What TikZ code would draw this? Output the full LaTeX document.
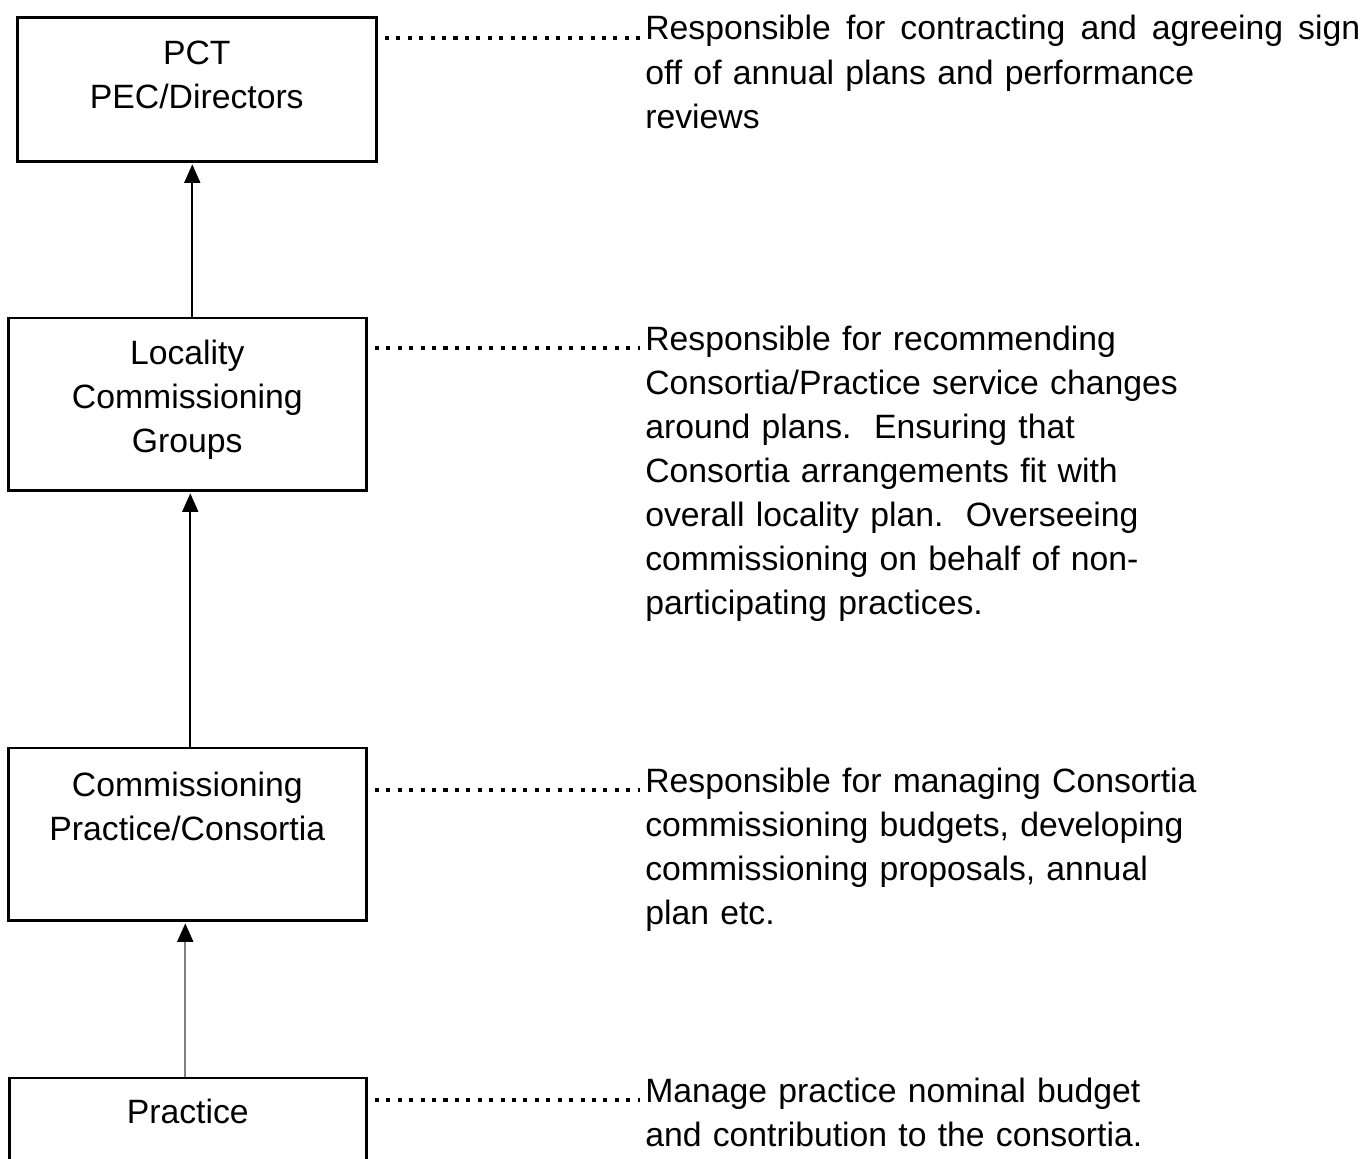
\documentclass[tikz,border=0pt]{standalone}
\usepackage{fontspec}
\setmainfont{Liberation Sans}
\usepackage{tikz}
\usetikzlibrary{arrows.meta}
\tikzstyle{unit}=[rectangle,draw,line width=1.5pt,inner sep=0pt,align=center,anchor=north west]
\tikzstyle{note}=[inner sep=0pt,text width=12cm,align=left,anchor=base west]
\tikzstyle{leader}=[line width=2.3pt,dash pattern=on 2.3pt off 4.2pt,dash phase=2.3pt,shorten >=3pt]
\tikzstyle{up}=[line width=1.2pt,-{Triangle[length=10.5pt,width=9pt]},shorten >=1pt]
\tikzstyle{upgray}=[up,draw=gray,-{Triangle[length=10.5pt,width=9pt,color=black]}]

\begin{document}
\begin{tikzpicture}[x=0.02cm,y=-0.02cm,font=\fontsize{19.2pt}{25.1pt}\selectfont]
\useasboundingbox (0,0) rectangle (1370,1159);

%boxes
\node[unit,text width=7.18cm,text height=0.94cm,text depth=1.94cm] (pct) at (16,16) {PCT\\PEC/Directors};
\node[unit,text width=7.16cm,text height=0.93cm,text depth=2.52cm] (loc) at (7,316.5) {Locality\\Commissioning\\Groups};
\node[unit,text width=7.16cm,text height=0.97cm,text depth=2.48cm] (cp) at (7,746.5) {Commissioning\\Practice/Consortia};
\node[unit,text width=7.14cm,text height=0.92cm,text depth=2.6cm] (pr) at (8,1076.5) {Practice};

%notes
\node[note,text width=14.4cm] (pctnote) at (645,40) {\makebox[14.3cm][s]{Responsible\hfill for\hfill contracting\hfill and\hfill agreeing\hfill sign}\\off of annual plans and performance\\reviews};
\node[note] (locnote) at (645,350) {Responsible for recommending\\Consortia/Practice service changes\\around plans.\ \ Ensuring that\\Consortia arrangements fit with\\overall locality plan.\ \ Overseeing\\commissioning on behalf of non-\\participating practices.};
\node[note] (cpnote) at (645,792) {Responsible for managing Consortia\\commissioning budgets, developing\\commissioning proposals, annual\\plan etc.};
\node[note] (prnote) at (645,1102) {Manage practice nominal budget\\and contribution to the consortia.};

%dotted leaders
\draw[leader] ([yshift=0.04cm]pct.east |- pctnote.base west) -- ([yshift=0.04cm]pctnote.base west);
\draw[leader] ([yshift=0.04cm]loc.east |- locnote.base west) -- ([yshift=0.04cm]locnote.base west);
\draw[leader] ([yshift=0.04cm]cp.east |- cpnote.base west) -- ([yshift=0.04cm]cpnote.base west);
\draw[leader] ([yshift=0.04cm]pr.east |- prnote.base west) -- ([yshift=0.04cm]prnote.base west);

%arrows
\draw[up] ([xshift=0.1cm]loc.north) -- ([xshift=0.1cm]loc.north |- pct.south);
\draw[up] ([xshift=0.06cm]cp.north) -- ([xshift=0.06cm]cp.north |- loc.south);
\draw[upgray] ([xshift=-0.05cm]pr.north) -- ([xshift=-0.05cm]pr.north |- cp.south);

\end{tikzpicture}
\end{document}
